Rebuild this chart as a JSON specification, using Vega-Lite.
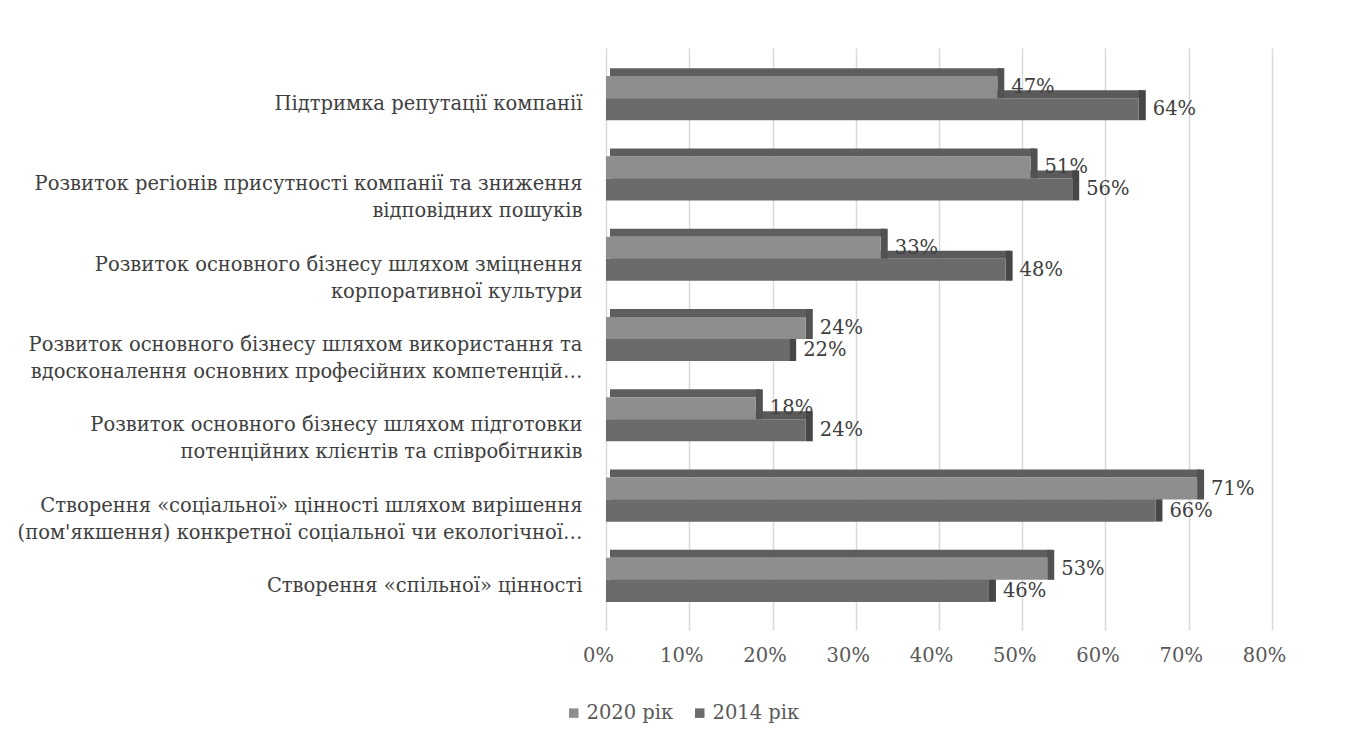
{
  "$schema": "https://vega.github.io/schema/vega-lite/v6.json",
  "autosize": {"type": "none"},
  "padding": {"left": 606, "top": 48, "right": 76, "bottom": 110},
  "width": 666,
  "height": 582,
  "background": "white",
  "config": {
    "view": {"stroke": null},
    "font": "DejaVu Serif",
    "text": {"font": "DejaVu Serif"},
    "axis": {"labelFont": "DejaVu Serif"},
    "legend": {"labelFont": "DejaVu Serif"}
  },
  "data": {
    "values": [
      {"category": "Підтримка репутації компанії", "year": "2020 рік", "value": 0.47},
      {"category": "Підтримка репутації компанії", "year": "2014 рік", "value": 0.64},
      {"category": "Розвиток регіонів присутності компанії та зниження\nвідповідних пошуків", "year": "2020 рік", "value": 0.51},
      {"category": "Розвиток регіонів присутності компанії та зниження\nвідповідних пошуків", "year": "2014 рік", "value": 0.56},
      {"category": "Розвиток основного бізнесу шляхом зміцнення\nкорпоративної культури", "year": "2020 рік", "value": 0.33},
      {"category": "Розвиток основного бізнесу шляхом зміцнення\nкорпоративної культури", "year": "2014 рік", "value": 0.48},
      {"category": "Розвиток основного бізнесу шляхом використання та\nвдосконалення основних професійних компетенцій…", "year": "2020 рік", "value": 0.24},
      {"category": "Розвиток основного бізнесу шляхом використання та\nвдосконалення основних професійних компетенцій…", "year": "2014 рік", "value": 0.22},
      {"category": "Розвиток основного бізнесу шляхом підготовки\nпотенційних клієнтів  та співробітників", "year": "2020 рік", "value": 0.18},
      {"category": "Розвиток основного бізнесу шляхом підготовки\nпотенційних клієнтів  та співробітників", "year": "2014 рік", "value": 0.24},
      {"category": "Створення «соціальної» цінності шляхом вирішення\n(пом'якшення) конкретної соціальної чи екологічної…", "year": "2020 рік", "value": 0.71},
      {"category": "Створення «соціальної» цінності шляхом вирішення\n(пом'якшення) конкретної соціальної чи екологічної…", "year": "2014 рік", "value": 0.66},
      {"category": "Створення «спільної» цінності", "year": "2020 рік", "value": 0.53},
      {"category": "Створення «спільної» цінності", "year": "2014 рік", "value": 0.46}
    ]
  },
  "encoding": {
    "y": {
      "field": "category",
      "type": "nominal",
      "sort": null,
      "scale": {"paddingInner": 0.45, "paddingOuter": 0.35},
      "axis": {
        "title": null,
        "domain": false,
        "ticks": false,
        "labelExpr": "split(datum.label, '\\n')",
        "labelFontSize": 19.5,
        "labelColor": "#404040",
        "labelLineHeight": 27,
        "labelPadding": 24,
        "labelOffset": 6,
        "labelLimit": 700
      }
    },
    "x": {
      "field": "value",
      "type": "quantitative",
      "scale": {"domain": [0, 0.8], "nice": false},
      "axis": {
        "title": null,
        "format": ".0%",
        "values": [0, 0.1, 0.2, 0.3, 0.4, 0.5, 0.6, 0.7, 0.8],
        "domain": false,
        "ticks": false,
        "grid": true,
        "gridColor": "#d9d9d9",
        "gridWidth": 1.5,
        "labelFontSize": 19.5,
        "labelColor": "#595959",
        "labelPadding": 16,
        "labelOffset": -8,
        "labelFlush": false
      }
    }
  },
  "layer": [
    {
      "transform": [{"filter": "datum.year == '2014 рік'"}],
      "mark": {"type": "bar", "height": 8, "yOffset": -4, "xOffset": 4, "color": "#5a5a5a"}
    },
    {
      "transform": [{"filter": "datum.year == '2020 рік'"}],
      "mark": {"type": "bar", "height": 8, "yOffset": -26, "xOffset": 4, "color": "#5e5e5e"}
    },
    {
      "transform": [{"filter": "datum.year == '2014 рік'"}],
      "mark": {"type": "tick", "orient": "vertical", "thickness": 7, "size": 30, "xOffset": 3.5, "yOffset": 7, "color": "#474747", "opacity": 1}
    },
    {
      "transform": [{"filter": "datum.year == '2020 рік'"}],
      "mark": {"type": "tick", "orient": "vertical", "thickness": 7, "size": 30, "xOffset": 3.5, "yOffset": -15, "color": "#525252", "opacity": 1}
    },
    {
      "mark": {"type": "bar"},
      "encoding": {
        "yOffset": {
          "field": "year",
          "type": "nominal",
          "sort": ["2020 рік", "2014 рік"],
          "scale": {"paddingInner": 0, "paddingOuter": 0}
        },
        "color": {
          "field": "year",
          "type": "nominal",
          "sort": ["2020 рік", "2014 рік"],
          "scale": {"domain": ["2020 рік", "2014 рік"], "range": ["#8e8e8e", "#6b6b6b"]},
          "legend": {
            "title": null,
            "orient": "none",
            "direction": "horizontal",
            "legendX": -42,
            "legendY": 655,
            "symbolType": "square",
            "symbolSize": 90,
            "symbolStrokeWidth": 0,
            "labelFontSize": 19.5,
            "labelColor": "#595959",
            "labelOffset": 3,
            "columnPadding": 16
          }
        }
      }
    },
    {
      "mark": {"type": "text", "align": "left", "baseline": "middle", "dx": 14, "fontSize": 19.5, "color": "#404040"},
      "encoding": {
        "yOffset": {
          "field": "year",
          "type": "nominal",
          "sort": ["2020 рік", "2014 рік"],
          "scale": {"paddingInner": 0, "paddingOuter": 0}
        },
        "text": {"field": "value", "type": "quantitative", "format": ".0%"}
      }
    }
  ]
}
